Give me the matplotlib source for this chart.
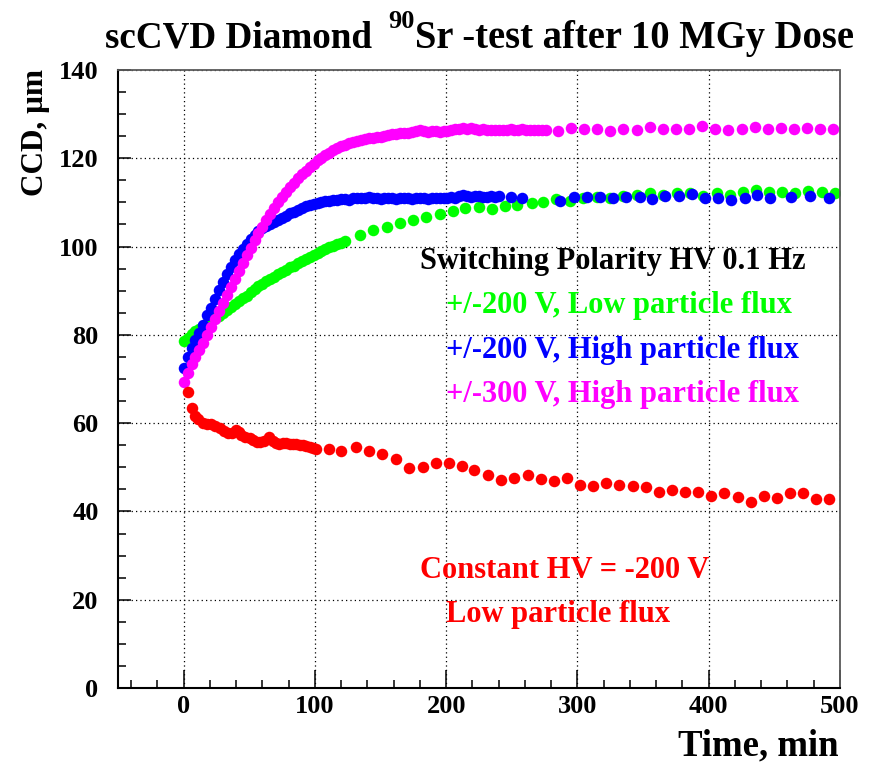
import numpy as np
import matplotlib
matplotlib.use("Agg")
import matplotlib.pyplot as plt
from matplotlib.ticker import MultipleLocator

plt.rcParams['font.family'] = ['Liberation Serif', 'DejaVu Serif']
plt.rcParams['font.weight'] = 'bold'

# --- data (time in min, CCD in um) ---
# +/-300 V, high particle flux (dense run, then sparse)
t_mag = [0, 3, 6, 9, 12, 15, 18, 21, 24, 27, 30, 33, 36, 39, 42, 45, 48, 51, 54, 57,
         60, 63, 66, 69, 72, 75, 78, 81, 84, 87, 90, 93, 96, 99, 102, 105, 108, 111, 114, 117,
         120, 123, 126, 129, 132, 135, 138, 141, 144, 147, 150, 153, 156, 159, 162, 165, 168, 171, 174, 177,
         180, 183, 186, 189, 192, 195, 198, 201, 204, 207, 210, 213, 216, 219, 222, 225, 228, 231, 234, 237,
         240, 243, 246, 249, 252, 255, 258, 261, 264, 267, 270, 273, 276,
         285, 295, 305, 315, 325, 335, 345, 355, 365, 375, 385, 395, 405, 415, 425, 435, 445, 455,
         465, 475, 485, 495]
ccd_mag = [69.4, 71.4, 73.3, 75.0, 76.6, 78.2, 79.9, 81.7, 83.5, 85.4, 87.3, 89.1, 90.8, 92.6, 94.4, 96.2,
           98.0, 99.7, 101.4, 103.0, 104.5, 106.0, 107.4, 108.8, 110.0, 111.2, 112.3, 113.4, 114.5, 115.5,
           116.4, 117.2, 118.0, 118.8, 119.5, 120.1, 120.8, 121.3, 121.8, 122.3, 122.7, 123.1, 123.4, 123.6,
           123.9, 124.1, 124.3, 124.5, 124.6, 124.8, 124.9, 125.1, 125.2, 125.4, 125.5, 125.7, 125.8, 125.8,
           125.9, 126.1, 126.3, 126.2, 126.0, 126.1, 126.2, 126.0, 126.1, 126.2, 126.4, 126.6, 126.7, 126.8,
           126.7, 126.8, 126.6, 126.5, 126.6, 126.4, 126.3, 126.5, 126.4, 126.3, 126.5, 126.7, 126.5, 126.4,
           126.6, 126.5, 126.3, 126.4, 126.5, 126.3, 126.4,
           126.2, 126.8, 126.6, 126.6, 126.2, 126.6, 126.3, 127.2, 126.6, 126.6, 126.6, 127.4, 126.6, 126.3,
           126.6, 127.2, 126.6, 126.8, 126.6, 126.8, 126.6, 126.6]

# +/-200 V, high particle flux
t_blue = [0, 3, 6, 9, 12, 15, 18, 21, 24, 27, 30, 33, 36, 39, 42, 45, 48, 51, 54, 57,
          60, 63, 66, 69, 72, 75, 78, 81, 84, 87, 90, 93, 96, 99, 102, 105, 108, 111, 114, 117,
          120, 123, 126, 129, 132, 135, 138, 141, 144, 147, 150, 153, 156, 159, 162, 165, 168, 171, 174, 177,
          180, 183, 186, 189, 192, 195, 198, 201, 204, 207, 210, 213, 216, 219, 222, 225, 228, 231, 234, 237,
          240,
          249, 258, 287, 297, 307, 317, 327, 337, 348, 357, 367, 377, 387, 397, 407, 417, 428, 437,
          447, 463, 477, 492]
ccd_blue = [72.6, 75.0, 77.0, 78.8, 80.5, 82.3, 84.4, 86.1, 88.1, 90.2, 92.0, 93.8, 95.4, 96.9, 98.3, 99.5,
            100.6, 101.7, 102.7, 103.5, 104.1, 104.6, 105.1, 105.5, 106.0, 106.5, 107.0, 107.5, 107.9, 108.3,
            108.7, 109.1, 109.4, 109.6, 109.9, 110.1, 110.3, 110.4, 110.5, 110.6, 110.7, 110.8, 110.6, 110.9,
            111.0, 110.9, 111.1, 111.2, 111.1, 110.9, 110.8, 110.9, 111.0, 110.9, 110.8, 110.9, 111.0, 110.9,
            110.8, 110.9, 111.0, 110.9, 110.8, 110.9, 111.0, 111.1, 110.9, 111.0, 111.2, 111.1, 111.4, 111.6,
            111.5, 111.3, 111.5, 111.4, 111.2, 111.3, 111.4, 111.3, 111.5,
            111.3, 110.9, 110.4, 111.3, 111.3, 111.3, 111.1, 111.3, 111.3, 110.8, 111.5, 111.5, 111.9, 111.1,
            111.1, 110.6, 111.1, 111.7, 110.9, 111.3, 111.5, 111.1]

# +/-200 V, low particle flux
t_green = [0, 3, 6, 9, 12, 15, 18, 21, 24, 27, 30, 33, 36, 39, 42, 45, 48, 51, 54, 57,
           60, 63, 66, 69, 72, 75, 78, 81, 84, 87, 90, 93, 96, 99, 102, 105, 108, 111, 114, 117,
           120, 123,
           134, 144, 155, 165, 175, 185, 195, 205, 214, 225, 235, 245, 254, 265, 274, 284, 294, 304,
           315, 325, 335, 345, 355, 365, 376, 386, 396, 406, 416, 426, 436, 446, 456, 466, 476, 486, 496]
ccd_green = [78.7, 79.4, 80.1, 80.8, 81.4, 82.0, 82.6, 83.2, 83.8, 84.3, 85.0, 85.7, 86.4, 87.0, 87.6, 88.3,
             88.9, 89.6, 90.3, 91.0, 91.5, 92.1, 92.7, 93.2, 93.7, 94.3, 94.8, 95.3, 95.7, 96.2, 96.7, 97.1,
             97.6, 98.1, 98.5, 99.0, 99.4, 99.8, 100.2, 100.5, 100.9, 101.3,
             102.6, 103.8, 104.5, 105.3, 106.0, 106.8, 107.3, 108.1, 108.7, 109.0, 108.4, 109.3, 109.4, 109.8,
             110.2, 110.7, 110.4, 110.9, 111.3, 111.1, 111.5, 111.7, 112.1, 111.7, 112.1, 112.2, 111.5, 112.1,
             111.7, 112.4, 112.9, 112.4, 112.4, 112.1, 112.6, 112.4, 112.1]

# constant HV = -200 V, low particle flux
t_red = [3.3, 6.6, 8.4, 11, 14.7, 18, 21, 24, 27.4, 30.5, 33.8, 36.5, 39.6, 42, 44, 47, 50.3, 53,
         55.9, 58.5, 61, 65, 68, 70.6, 73, 75.7, 78, 80.8, 83.5, 85.9, 88.5, 90.9, 93.5, 96, 98.5, 101,
         111, 120, 131, 141, 151, 162, 172, 182, 192, 202, 212, 221, 232, 242, 252, 262, 272, 282,
         292, 302, 312, 322, 332, 342, 352, 362, 372, 382, 392, 402, 412, 422, 432, 442, 452, 462,
         472, 482, 492]
ccd_red = [67.1, 63.4, 61.6, 61.0, 60.0, 59.8, 59.8, 59.3, 58.8, 58.2, 57.7, 57.8, 58.4, 57.9, 57.3, 56.9,
           56.6, 56.2, 55.8, 55.8, 56.0, 56.9, 56.0, 55.4, 55.3, 55.4, 55.4, 55.3, 55.2, 55.2, 55.1, 55.0,
           54.8, 54.5, 54.3, 54.1,
           54.2, 53.6, 54.5, 53.6, 52.9, 51.9, 49.8, 50.1, 50.9, 51.0, 50.3, 49.3, 48.3, 47.1, 47.5, 48.3,
           47.3, 47.0, 47.5, 46.0, 45.8, 46.4, 46.1, 45.8, 45.6, 44.3, 44.9, 44.3, 44.5, 43.6, 44.1, 43.3,
           42.2, 43.6, 43.1, 44.2, 44.1, 42.8, 42.8]

W, H = 875, 763
fig = plt.figure(figsize=(W / 100, H / 100), dpi=100)
ax = fig.add_axes([118 / W, 1 - 688 / H, (840 - 118) / W, (688 - 70) / H])

ms = 8.3
ax.plot(t_green, ccd_green, 'o', color='#00ff00', ms=ms, mew=0)
ax.plot(t_blue, ccd_blue, 'o', color='#0000ff', ms=ms, mew=0)
ax.plot(t_mag, ccd_mag, 'o', color='#ff00ff', ms=ms, mew=0)
ax.plot(t_red, ccd_red, 'o', color='#ff0000', ms=ms, mew=0)

ax.set_xlim(-50, 500)
ax.set_ylim(0, 140)
ax.xaxis.set_major_locator(MultipleLocator(100))
ax.xaxis.set_minor_locator(MultipleLocator(20))
ax.yaxis.set_major_locator(MultipleLocator(20))
ax.yaxis.set_minor_locator(MultipleLocator(5))
ax.grid(True, which='major', color='black', linestyle=(0, (1, 2.5)), linewidth=0.9)
ax.set_axisbelow(True)

ax.tick_params(which='both', direction='in', top=False, right=False, width=1.1, labelsize=19)
ax.tick_params(axis='x', which='major', length=13, pad=5)
ax.tick_params(axis='x', which='minor', length=6)
ax.tick_params(axis='y', which='major', length=9, pad=14)
ax.tick_params(axis='y', which='minor', length=6)

for s in ['left', 'bottom']:
    ax.spines[s].set_linewidth(1.5)
for s in ['top', 'right']:
    ax.spines[s].set_color('0.35')
    ax.spines[s].set_linestyle((0, (1, 1)))
    ax.spines[s].set_linewidth(1.3)

# title pieces
fig.text(105 / W, 1 - 48 / H, "scCVD Diamond", fontsize=26.7, ha='left', va='baseline')
fig.text(415 / W, 1 - 28 / H, "90", fontsize=19, ha='right', va='baseline')
fig.text(415 / W, 1 - 48 / H, "Sr -test after 10 MGy Dose", fontsize=27.8, ha='left', va='baseline')

# axis titles
fig.text(839 / W, 1 - 755 / H, "Time, min", fontsize=26.5, ha='right', va='baseline')
fig.text(35 / W, 1 - 69 / H, "CCD, μm", fontsize=22.5, rotation=90, ha='center', va='top')

# annotations
fig.text(420 / W, 1 - 269 / H, "Switching Polarity HV 0.1 Hz", fontsize=22, color='black', va='baseline')
fig.text(446 / W, 1 - 313 / H, "+/-200 V, Low particle flux", fontsize=22, color='#00ff00', va='baseline')
fig.text(446 / W, 1 - 358 / H, "+/-200 V, High particle flux", fontsize=22, color='#0000ff', va='baseline')
fig.text(446 / W, 1 - 402 / H, "+/-300 V, High particle flux", fontsize=22, color='#ff00ff', va='baseline')
fig.text(420 / W, 1 - 578 / H, "Constant HV = -200 V", fontsize=22, color='#ff0000', va='baseline')
fig.text(446 / W, 1 - 622 / H, "Low particle flux", fontsize=22, color='#ff0000', va='baseline')

fig.savefig("out.png", dpi=100)
